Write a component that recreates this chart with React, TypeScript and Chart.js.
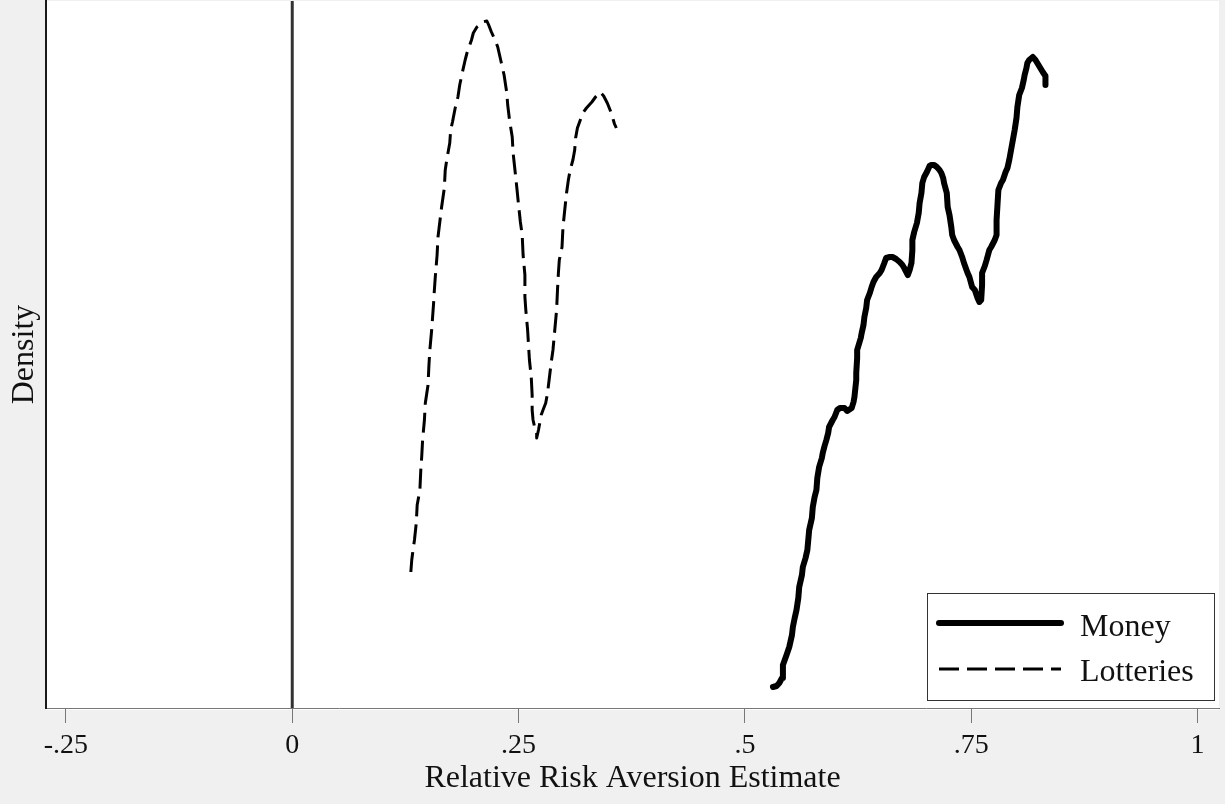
import { useEffect, useRef } from 'react';
import { Chart, registerables } from 'chart.js';

Chart.register(...registerables);

const seriesLabels = ['Money', 'Lotteries'];
const xTickValues = [-0.25, 0, 0.25, 0.5, 0.75, 1];
const xTickLabels = ['-.25', '0', '.25', '.5', '.75', '1'];
const xAxisTitle = 'Relative Risk Aversion Estimate';
const yAxisTitle = 'Density';
const referenceLineX = 0;

const moneyX = [
  0.531, 0.535, 0.538, 0.541, 0.542, 0.546, 0.549, 0.552, 0.553, 0.555, 0.557, 0.559, 0.56, 0.563, 0.564, 0.567,
  0.569, 0.57, 0.571, 0.574, 0.575, 0.577, 0.579, 0.58, 0.582, 0.585, 0.586, 0.588, 0.59, 0.592, 0.593, 0.597,
  0.599, 0.602, 0.605, 0.61, 0.613, 0.618, 0.62, 0.621, 0.623, 0.623, 0.624, 0.624, 0.628, 0.629, 0.631, 0.632,
  0.634, 0.635, 0.638, 0.64, 0.642, 0.645, 0.649, 0.651, 0.654, 0.656, 0.66, 0.663, 0.667, 0.671, 0.674, 0.676,
  0.68, 0.682, 0.684, 0.685, 0.685, 0.687, 0.69, 0.692, 0.693, 0.695, 0.696, 0.698, 0.701, 0.704, 0.706, 0.709,
  0.712, 0.715, 0.717, 0.719, 0.72, 0.723, 0.724, 0.726, 0.728, 0.729, 0.731, 0.735, 0.737, 0.74, 0.742, 0.746,
  0.748, 0.751, 0.754, 0.757, 0.759, 0.761, 0.762, 0.762, 0.765, 0.767, 0.77, 0.772, 0.776, 0.778, 0.778, 0.779,
  0.78, 0.783, 0.785, 0.788, 0.79, 0.792, 0.794, 0.796, 0.798, 0.8, 0.801, 0.803, 0.806, 0.808, 0.809, 0.811,
  0.812, 0.814, 0.818, 0.821, 0.823, 0.825, 0.827, 0.829, 0.832, 0.832,
];
const moneyY = [
  0.21, 0.22, 0.25, 0.3, 0.43, 0.53, 0.61, 0.73, 0.81, 0.9, 0.98, 1.1, 1.21, 1.33, 1.41, 1.5,
  1.58, 1.68, 1.78, 1.9, 2.01, 2.11, 2.18, 2.3, 2.41, 2.5, 2.55, 2.62, 2.68, 2.75, 2.81, 2.88,
  2.91, 2.98, 3.0, 3.0, 2.97, 3.0, 3.06, 3.11, 3.28, 3.35, 3.5, 3.58, 3.7, 3.75, 3.83, 3.91,
  4.0, 4.08, 4.15, 4.21, 4.26, 4.31, 4.35, 4.38, 4.45, 4.5, 4.51, 4.51, 4.49, 4.46, 4.43, 4.4,
  4.33, 4.38, 4.45, 4.58, 4.68, 4.76, 4.85, 4.95, 5.05, 5.15, 5.25, 5.31, 5.36, 5.42, 5.43, 5.43,
  5.41, 5.38, 5.35, 5.3, 5.25, 5.15, 5.01, 4.93, 4.81, 4.73, 4.68, 4.61, 4.58, 4.51, 4.45, 4.35,
  4.31, 4.21, 4.18, 4.1, 4.06, 4.08, 4.23, 4.35, 4.42, 4.48, 4.58, 4.61, 4.68, 4.73, 4.88, 5.03,
  5.18, 5.25, 5.28, 5.36, 5.4, 5.48, 5.58, 5.68, 5.78, 5.9, 6.01, 6.13, 6.2, 6.28, 6.33, 6.4,
  6.45, 6.48, 6.51, 6.48, 6.45, 6.42, 6.39, 6.36, 6.32, 6.23,
];

const lotteryX = [
  0.131, 0.132, 0.133, 0.135, 0.137, 0.138, 0.141, 0.142, 0.143, 0.144, 0.146, 0.147, 0.15, 0.151, 0.152, 0.154,
  0.156, 0.157, 0.158, 0.16, 0.161, 0.163, 0.165, 0.168, 0.169, 0.171, 0.174, 0.175, 0.177, 0.18, 0.183, 0.185,
  0.188, 0.191, 0.193, 0.196, 0.198, 0.2, 0.204, 0.207, 0.21, 0.215, 0.217, 0.22, 0.224, 0.227, 0.229, 0.231,
  0.234, 0.237, 0.238, 0.24, 0.243, 0.244, 0.246, 0.248, 0.25, 0.252, 0.254, 0.255, 0.257, 0.257, 0.258, 0.26,
  0.261, 0.262, 0.264, 0.265, 0.265, 0.266, 0.268, 0.27, 0.27, 0.272, 0.275, 0.277, 0.28, 0.282, 0.284, 0.286,
  0.288, 0.29, 0.292, 0.293, 0.294, 0.295, 0.298, 0.299, 0.301, 0.303, 0.305, 0.307, 0.31, 0.312, 0.313, 0.315,
  0.319, 0.321, 0.325, 0.331, 0.335, 0.34, 0.344, 0.348, 0.352, 0.354, 0.356, 0.358,
];
const lotteryY = [
  1.36, 1.48, 1.55, 1.68, 1.85, 2.03, 2.18, 2.38, 2.51, 2.68, 2.88, 3.05, 3.23, 3.43, 3.58, 3.78,
  4.03, 4.18, 4.31, 4.53, 4.71, 4.86, 5.01, 5.2, 5.38, 5.5, 5.65, 5.78, 5.86, 6.0, 6.11, 6.23,
  6.36, 6.48, 6.55, 6.63, 6.68, 6.75, 6.81, 6.83, 6.86, 6.87, 6.83, 6.76, 6.68, 6.61, 6.53, 6.45,
  6.33, 6.15, 6.03, 5.88, 5.71, 5.55, 5.38, 5.21, 5.03, 4.86, 4.73, 4.53, 4.33, 4.11, 3.98, 3.78,
  3.63, 3.48, 3.31, 3.13, 2.98, 2.88, 2.8, 2.75, 2.7, 2.78, 2.93, 2.98, 3.05, 3.15, 3.3, 3.45,
  3.58, 3.78, 3.98, 4.18, 4.35, 4.48, 4.61, 4.8, 4.98, 5.15, 5.28, 5.38, 5.48, 5.58, 5.7, 5.8,
  5.9, 5.95, 6.0, 6.06, 6.11, 6.16, 6.12, 6.05, 5.96, 5.9, 5.84, 5.8,
];

const FONT_FAMILY = '"Liberation Serif", "Times New Roman", serif';

const backgroundPlugin = {
  id: 'stataBackground',
  beforeDraw(chart: any) {
    const { ctx, chartArea, width, height } = chart;
    ctx.save();
    ctx.fillStyle = '#f0f0f0';
    ctx.fillRect(0, 0, width, height);
    ctx.fillStyle = '#ffffff';
    ctx.fillRect(chartArea.left, chartArea.top, chartArea.right - chartArea.left, chartArea.bottom - chartArea.top + 2);
    ctx.restore();
  },
};

const referenceLinePlugin = {
  id: 'referenceLine',
  beforeDatasetsDraw(chart: any) {
    const { ctx, chartArea, scales } = chart;
    const px = scales.x.getPixelForValue(referenceLineX);
    ctx.save();
    ctx.strokeStyle = '#333333';
    ctx.lineWidth = 3;
    ctx.beginPath();
    ctx.moveTo(px, chartArea.top);
    ctx.lineTo(px, chartArea.bottom);
    ctx.stroke();
    ctx.restore();
  },
};

const insideLegendPlugin = {
  id: 'insideLegend',
  afterDraw(chart: any) {
    const { ctx, chartArea } = chart;
    const boxW = 287;
    const boxH = 107;
    const right = chartArea.right - 5;
    const bottom = chartArea.bottom - 8;
    const left = right - boxW;
    const top = bottom - boxH;
    ctx.save();
    ctx.fillStyle = '#ffffff';
    ctx.fillRect(left, top, boxW, boxH);
    ctx.strokeStyle = '#333333';
    ctx.lineWidth = 1;
    ctx.strokeRect(left + 0.5, top + 0.5, boxW, boxH);
    const rows = [
      { lineY: top + 30, textY: top + 43 },
      { lineY: top + 76, textY: top + 88 },
    ];
    chart.data.datasets.forEach((ds: any, i: number) => {
      const r = rows[i];
      ctx.strokeStyle = ds.borderColor;
      ctx.lineWidth = ds.borderWidth;
      ctx.lineCap = ds.borderDash && ds.borderDash.length ? 'butt' : 'round';
      ctx.setLineDash(ds.borderDash || []);
      ctx.beginPath();
      ctx.moveTo(left + 12, r.lineY);
      ctx.lineTo(left + 134, r.lineY);
      ctx.stroke();
      ctx.setLineDash([]);
      ctx.fillStyle = '#111111';
      ctx.font = `32px ${FONT_FAMILY}`;
      ctx.textBaseline = 'alphabetic';
      ctx.textAlign = 'left';
      ctx.fillText(ds.label, left + 153, r.textY);
    });
    ctx.restore();
  },
};

export default function App() {
  const canvasRef = useRef<HTMLCanvasElement | null>(null);

  useEffect(() => {
    document.body.style.margin = '0';
    document.body.style.background = '#f0f0f0';
    const canvas = canvasRef.current;
    if (!canvas) return;

    const chart = new Chart(canvas, {
      type: 'line',
      data: {
        datasets: [
          {
            label: seriesLabels[0],
            data: moneyX.map((x, i) => ({ x, y: moneyY[i] })),
            borderColor: '#000000',
            borderWidth: 6,
            borderCapStyle: 'round',
            borderJoinStyle: 'round',
            pointRadius: 0,
            tension: 0,
            fill: false,
          },
          {
            label: seriesLabels[1],
            data: lotteryX.map((x, i) => ({ x, y: lotteryY[i] })),
            borderColor: '#000000',
            borderWidth: 3,
            borderDash: [20, 8],
            borderCapStyle: 'butt',
            borderJoinStyle: 'round',
            pointRadius: 0,
            tension: 0,
            fill: false,
          },
        ],
      },
      options: {
        animation: false,
        responsive: false,
        maintainAspectRatio: false,
        layout: { padding: { left: 0, right: 6, top: 1, bottom: 0 } },
        plugins: {
          legend: { display: false },
          tooltip: { enabled: false },
        },
        scales: {
          x: {
            type: 'linear',
            position: 'bottom',
            min: -0.272,
            max: 1.0237,
            afterBuildTicks: (scale: any) => {
              scale.ticks = xTickValues.map((v) => ({ value: v }));
            },
            afterFit: (scale: any) => {
              scale.height = 96;
            },
            ticks: {
              autoSkip: false,
              maxRotation: 0,
              padding: 6,
              color: '#111111',
              font: { family: FONT_FAMILY, size: 28 },
              callback: (_v: any, index: number) => xTickLabels[index],
            },
            grid: {
              display: true,
              drawOnChartArea: false,
              drawTicks: true,
              tickLength: 15,
              color: '#777777',
              lineWidth: 1,
            },
            border: { display: true, color: '#777777', width: 1 },
            title: {
              display: true,
              text: xAxisTitle,
              color: '#111111',
              font: { family: FONT_FAMILY, size: 32 },
              padding: { top: 0, bottom: 6 },
            },
          },
          y: {
            type: 'linear',
            position: 'left',
            min: 0,
            max: 7.07,
            afterFit: (scale: any) => {
              scale.width = 46;
            },
            ticks: { display: false },
            grid: { display: false },
            border: { display: true, color: '#1a1a1a', width: 2 },
            title: {
              display: true,
              text: yAxisTitle,
              color: '#111111',
              font: { family: FONT_FAMILY, size: 32 },
              padding: { top: 5, bottom: 0 },
            },
          },
        },
      },
      plugins: [backgroundPlugin, referenceLinePlugin, insideLegendPlugin],
    } as any);

    return () => {
      chart.destroy();
    };
  }, []);

  return <canvas ref={canvasRef} width={1225} height={804} style={{ display: 'block' }} />;
}
